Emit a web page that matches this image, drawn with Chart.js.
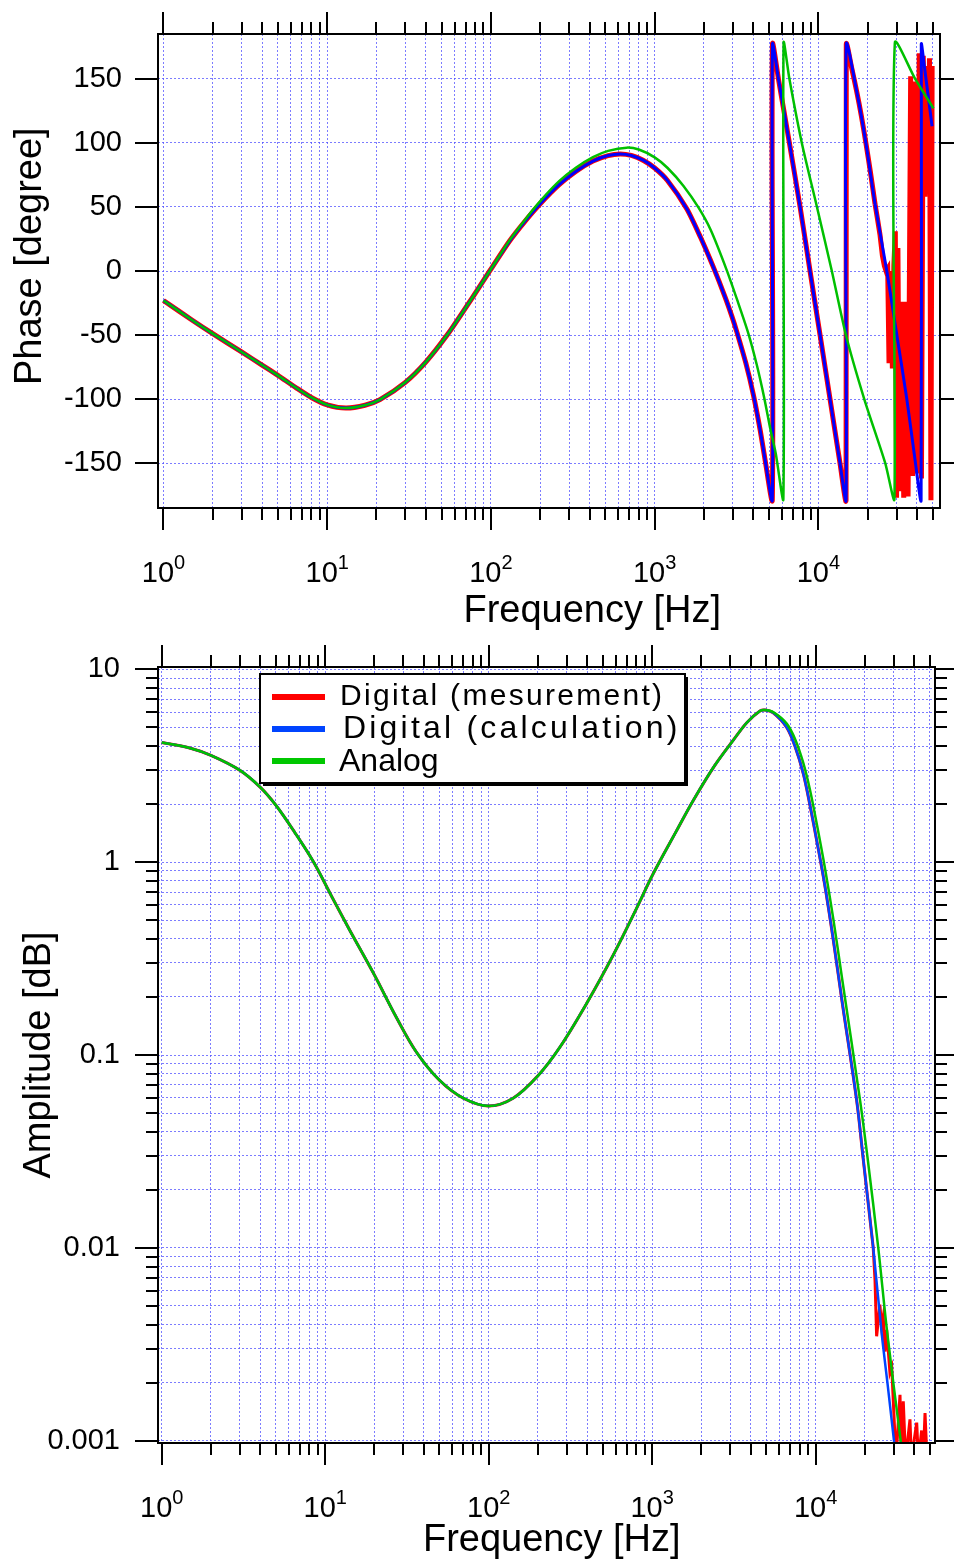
<!DOCTYPE html>
<html>
<head>
<meta charset="utf-8">
<title>Digital vs analog filter response</title>
<script src="https://cdn.jsdelivr.net/npm/chart.js@4.4.1/dist/chart.umd.min.js"></script>
<style>
  html, body { margin: 0; padding: 0; background: #fff; }
  #wrap { position: relative; width: 954px; height: 1560px; overflow: hidden; }
  #phase-chart { position: absolute; left: 0; top: 0; }
  #amp-chart { position: absolute; left: 0; top: 640px; }
</style>
</head>
<body>
<div id="wrap">
  <canvas id="phase-chart" width="954" height="640"></canvas>
  <canvas id="amp-chart" width="954" height="920"></canvas>
</div>
<script>
// Axis ticks
const freqDecades = [1, 10, 100, 1000, 10000];
const freqDecadeExps = ['0', '1', '2', '3', '4'];
const phaseTicks = [-150, -100, -50, 0, 50, 100, 150];
const ampDecades = [0.001, 0.01, 0.1, 1, 10];
const ampDecadeLabels = ['0.001', '0.01', '0.1', '1', '10'];

// Phase - digital (calculation)
const fPhaseCalc = [1, 1.5, 2, 3, 4, 5, 6.5, 8, 10, 13, 17, 21, 30, 40, 54, 70, 86, 99, 130, 160, 200, 260,
  330, 420, 520, 615, 720, 850, 1000, 1200, 1570, 1900, 2280, 2700, 2970, 3175, 3600, 4010, 4400, 4720, 5230, 5240,
  5700, 6650, 7730, 8890, 10240, 11780, 13550, 14760, 14800, 17150, 19500, 22200, 26170, 30130, 34680, 38990,
  42400, 42500, 44260, 49450];
const phaseCalc = [-23, -38.4, -48.9, -63.2, -73.4, -81.5, -91.4, -98.7, -104.5, -107, -104.8, -100.4,
  -86.9, -71.1, -50, -28.8, -11.4, 0.6, 23.4, 38.2, 52.5, 67.2,
  77.7, 85.8, 90.1, 91.4, 90.2, 86.5, 80.4, 70.5, 48.6, 26.7, 3.2, -20.7, -35.8, -47.5, -71.6, -96.8, -123.5, -147, -179, 177,
  150, 100, 50, 0, -50, -100, -150, -179, 177, 140, 100, 52, 0, -50, -100, -148,
  -179, 177, 161, 113];

// Phase - digital (measurement): clean part, then the noisy tail
const fPhaseMeas = [1, 1.5, 2, 3, 4, 5, 6.5, 8, 10, 13, 17, 21, 30, 40, 54, 70, 86, 99, 130, 160, 200, 260,
  330, 420, 520, 615, 720, 850, 1000, 1200, 1570, 1900, 2280, 2700, 2970, 3175, 3600, 4010, 4400, 4720, 5230, 5240,
  5700, 6650, 7730, 8890, 10240, 11780, 13550, 14760, 14800, 16000, 17150, 18300, 19500, 20800, 22200];
const phaseMeas = [-23, -38.4, -48.9, -63.2, -73.4, -81.5, -91.4, -98.7, -104.5, -107, -104.8, -100.4,
  -86.9, -71.1, -50, -28.8, -11.4, 0.6, 23.4, 38.2, 52.5, 67.2,
  77.7, 85.8, 90.1, 91.4, 90.2, 86.5, 80.4, 70.5, 48.6, 26.7, 3.2, -20.7, -35.8, -47.5, -71.6, -96.8, -123.5, -147, -179, 177,
  150, 100, 50, 0, -50, -100, -150, -179, 177, 158, 140, 121, 100, 77, 52];
const fPhaseMeasTail = [22200, 23000, 23800, 24600, 25300, 25900, 26500, 27000, 27600, 28300,
  28900, 29500, 30000, 30600, 31300, 32200, 33200, 34200, 35300, 36600,
  37600, 38700, 39800, 41300, 42600, 43700, 44700, 45700, 46700, 47700, 48700, 49500];
const phaseMeasTail = [52, 40, 28, 12, 4, 0, 2, -72, 0, -76,
  4, 31, -177, 18, -172, -24, -177, -24, -176, 152,
  -160, 148, -158, 170, -162, 168, 58, 160, 60, 166, -179, 160];

// Phase - analog
const fPhaseAnalog = [1, 1.5, 2, 3, 4, 5, 6.5, 8, 10, 13, 17, 21, 30, 40, 54, 70, 86, 99, 130, 160, 200, 260,
  330, 420, 520, 675, 800, 1000, 1200, 1500, 1850, 2200, 2740, 3200, 3740, 4200, 4660, 5100, 5500, 6110, 6130, 6650,
  7920, 9800, 12080, 14730, 19060, 25600, 29130, 29300, 38990, 50400];
const phaseAnalog = [-23, -38.4, -48.9, -63.2, -73.4, -81.5, -91.4, -98.7, -104.5, -107, -104.8, -100.4,
  -86.9, -71.1, -50, -28.8, -11.4, 0.6, 23.9, 39.3, 54.5, 69.9,
  80.6, 88.9, 93.8, 96.3, 94.8, 88.7, 80.4, 66.4, 49.6, 32, 1.5, -23, -49, -73, -98.5, -124, -143, -178, 178, 150,
  100, 50, 0, -50, -100, -150, -178, 178, 150, 127];

// Amplitude - digital (calculation)
const fAmpCalc = [1, 1.5, 2, 3, 4, 5, 6.5, 8.5, 11, 14, 20, 27, 36, 50, 70, 100, 141, 200, 273, 400,
  578, 800, 1016, 1400, 1784, 2400, 3133, 3800, 4560, 4900, 5500, 6650, 7500, 8400, 9200, 10140, 11400, 12820, 14500, 17820,
  19530, 22500, 25330, 27420, 30130, 31500];
const ampCalc = [4.17, 3.9, 3.58, 3.0, 2.45, 1.97, 1.43, 1.0, 0.66, 0.45, 0.26, 0.159, 0.104, 0.074, 0.0597, 0.0544, 0.0597, 0.078, 0.11, 0.187,
  0.33, 0.573, 0.873, 1.44, 2.09, 3.15, 4.29, 5.3, 6.08, 6.15, 5.95, 5.0, 3.95, 2.88, 2.0, 1.3, 0.75, 0.395, 0.19, 0.058,
  0.029, 0.01, 0.00361, 0.00203, 0.001, 0.0007];

// Amplitude - digital (measurement): clean part, then the noisy tail
const fAmpMeas = [1, 1.5, 2, 3, 4, 5, 6.5, 8.5, 11, 14, 20, 27, 36, 50, 70, 100, 141, 200, 273, 400,
  578, 800, 1016, 1400, 1784, 2400, 3133, 3800, 4560, 4900, 5500, 6650, 7500, 8400, 9200, 10140, 11400, 12820, 14500, 17820,
  19530, 22500];
const ampMeas = [4.17, 3.9, 3.58, 3.0, 2.45, 1.97, 1.43, 1.0, 0.66, 0.45, 0.26, 0.159, 0.104, 0.074, 0.0597, 0.0544, 0.0597, 0.078, 0.11, 0.187,
  0.33, 0.573, 0.873, 1.44, 2.09, 3.15, 4.29, 5.3, 6.08, 6.15, 5.95, 5.0, 3.95, 2.88, 2.0, 1.3, 0.75, 0.395, 0.19, 0.058,
  0.029, 0.01];
const fAmpMeasTail = [22500, 23070, 23600, 24700, 25350, 25900, 26550, 27200, 28470, 29200, 31000, 32800,
  33500, 34350, 35500, 37750, 38500, 41500, 42500, 44500, 45500, 46660, 48000];
const ampMeasTail = [0.01, 0.0068, 0.00348, 0.00507, 0.00391, 0.0044, 0.0029, 0.00376, 0.00225, 0.0024, 0.0008, 0.00173,
  0.0008, 0.0016, 0.0008, 0.00129, 0.0008, 0.00124, 0.0008, 0.00113, 0.0008, 0.00139, 0.0008];

// Amplitude - analog
const fAmpAnalog = [1, 1.5, 2, 3, 4, 5, 6.5, 8.5, 11, 14, 20, 27, 36, 50, 70, 100, 141, 200, 273, 400,
  578, 800, 1016, 1400, 1784, 2400, 3133, 3800, 4560, 4900, 5500, 6650, 7500, 8400, 9200, 10140, 11400, 12820, 14500, 18700,
  20800, 24150, 27420, 33110, 35000];
const ampAnalog = [4.17, 3.9, 3.58, 3.0, 2.45, 1.97, 1.43, 1.0, 0.66, 0.45, 0.26, 0.159, 0.104, 0.074, 0.0597, 0.0544, 0.0597, 0.078, 0.11, 0.187,
  0.33, 0.573, 0.873, 1.44, 2.09, 3.15, 4.29, 5.3, 6.08, 6.15, 6.0, 5.23, 4.33, 3.27, 2.4, 1.59, 0.93, 0.508, 0.25, 0.058,
  0.029, 0.01, 0.00361, 0.001, 0.0007];

const labels = ['Digital (mesurement)', 'Digital (calculation)', 'Analog'];

const FONT = "'Liberation Sans', Arial, Helvetica, sans-serif";
const tickFont = { family: FONT, size: 29 };
const titleFont = { family: FONT, size: 38 };
const gridColor = 'rgba(80, 80, 255, 0.75)';

function toPoints(xs, ys) {
  return xs.map((x, i) => ({ x: x, y: ys[i] }));
}

// decades plus 2..9 minor ticks
function logTicks(decades, max) {
  const out = [];
  decades.forEach(d => {
    out.push(d);
    for (let m = 2; m <= 9; m++) {
      if (d * m <= max) out.push(d * m);
    }
  });
  return out;
}

function labelFrom(list, names) {
  return v => {
    const i = list.indexOf(v);
    return i < 0 ? '' : names[i];
  };
}

// scales report no extra label overhang, so the plot box stays where the padding puts it
function fixSize(prop, size) {
  return s => {
    s[prop] = size;
    s.paddingLeft = 0;
    s.paddingRight = 0;
    s.paddingTop = 0;
    s.paddingBottom = 0;
  };
}

// Igor-style frame: box round the plot, ticks outside on all four sides, 10^n labels
const frameTicks = {
  id: 'frameTicks',
  afterDraw(chart, args, opts) {
    const { ctx, chartArea: a } = chart;
    const xs = chart.scales.x;
    const ys = chart.scales.y;
    ctx.save();
    ctx.strokeStyle = '#000';
    ctx.lineWidth = 2;
    ctx.beginPath();
    xs.ticks.forEach(t => {
      const p = Math.round(xs.getPixelForValue(t.value));
      const len = opts.xMajor.includes(t.value) ? 22 : 12;
      ctx.moveTo(p, a.bottom); ctx.lineTo(p, a.bottom + len);
      ctx.moveTo(p, a.top); ctx.lineTo(p, a.top - len);
    });
    ys.ticks.forEach(t => {
      const p = Math.round(ys.getPixelForValue(t.value));
      const len = opts.yMajor.includes(t.value) ? 23 : 12;
      ctx.moveTo(a.left, p); ctx.lineTo(a.left - len, p);
      ctx.moveTo(a.right, p); ctx.lineTo(a.right + len, p);
    });
    ctx.stroke();
    ctx.strokeRect(a.left, a.top, a.right - a.left, a.bottom - a.top);

    ctx.fillStyle = '#000';
    ctx.textBaseline = 'alphabetic';
    ctx.textAlign = 'left';
    opts.xMajor.forEach((v, i) => {
      const p = xs.getPixelForValue(v);
      ctx.font = opts.baseFont;
      const wb = ctx.measureText('10').width;
      ctx.font = opts.expFont;
      const we = ctx.measureText(opts.exps[i]).width;
      const x0 = p - (wb + we) / 2;
      ctx.font = opts.baseFont;
      ctx.fillText('10', x0, a.bottom + 74);
      ctx.font = opts.expFont;
      ctx.fillText(opts.exps[i], x0 + wb, a.bottom + 61);
    });
    ctx.restore();
  }
};

// boxed legend with a drop shadow, placed inside the amplitude plot
const boxLegend = {
  id: 'boxLegend',
  afterDraw(chart, args, o) {
    if (!o.rows) return;
    const ctx = chart.ctx;
    const w = o.right - o.left;
    const h = o.bottom - o.top;
    ctx.save();
    ctx.fillStyle = '#000';
    ctx.fillRect(o.left + 3, o.top + 3, w, h);
    ctx.fillStyle = '#fff';
    ctx.fillRect(o.left, o.top, w, h);
    ctx.lineWidth = 2;
    ctx.strokeStyle = '#000';
    ctx.strokeRect(o.left, o.top, w, h);
    o.rows.forEach((row, i) => {
      const ds = chart.data.datasets[i];
      ctx.strokeStyle = o.colors[i];
      ctx.lineWidth = 6;
      ctx.beginPath();
      ctx.moveTo(o.lineX0, row.lineY);
      ctx.lineTo(o.lineX1, row.lineY);
      ctx.stroke();
      ctx.font = row.font;
      ctx.letterSpacing = row.spacing;
      ctx.fillStyle = '#000';
      ctx.textBaseline = 'alphabetic';
      ctx.textAlign = 'left';
      ctx.fillText(ds.label, row.textX, row.textY);
    });
    ctx.restore();
  }
};

function lineSet(label, pts, color, width, order, tension) {
  return {
    label: label,
    data: pts,
    borderColor: color,
    borderWidth: width,
    pointRadius: 0,
    fill: false,
    tension: tension,
    order: order
  };
}

function freqAxis(max, ticks, height, titleText, titleBottom) {
  return {
    type: 'logarithmic',
    min: max > 54000 ? 0.926 : 0.949,
    max: max,
    afterBuildTicks: s => { s.ticks = ticks.map(v => ({ value: v })); },
    afterFit: fixSize('height', height),
    ticks: { autoSkip: false, maxRotation: 0, padding: 0, font: tickFont, callback: () => '' },
    grid: { color: gridColor, lineWidth: 1, drawTicks: false },
    border: { display: false, dash: [2, 2] },
    title: { display: true, text: titleText, color: '#000', font: titleFont,
      padding: { top: 0, bottom: titleBottom } }
  };
}

const freqTicksTop = logTicks(freqDecades, 55300);
const freqTicksBottom = logTicks(freqDecades, 53700);
const ampTicks = logTicks(ampDecades, 10.3);

const xLabelOpts = {
  xMajor: freqDecades,
  exps: freqDecadeExps,
  baseFont: '29px ' + FONT,
  expFont: '20px ' + FONT
};

const phaseChart = new Chart(document.getElementById('phase-chart'), {
  type: 'line',
  data: {
    datasets: [
      lineSet(labels[0], toPoints(fPhaseMeas, phaseMeas), '#ff0000', 5, 3, 0.25),
      lineSet(labels[1], toPoints(fPhaseCalc, phaseCalc), '#0000ff', 3, 2, 0.25),
      lineSet(labels[2], toPoints(fPhaseAnalog, phaseAnalog), '#00c000', 2.5, 1, 0.25),
      lineSet(labels[0], toPoints(fPhaseMeasTail, phaseMeasTail), '#ff0000', 5, 3, 0)
    ]
  },
  options: {
    responsive: false,
    animation: false,
    devicePixelRatio: 1,
    layout: { padding: { top: 34, right: 14, left: 0, bottom: 0 } },
    plugins: {
      legend: { display: false },
      tooltip: { enabled: false },
      frameTicks: Object.assign({ yMajor: phaseTicks }, xLabelOpts)
    },
    scales: {
      x: freqAxis(55300, freqTicksTop, 132, '\u2002\u2002\u2002\u2002 Frequency [Hz]', 6),
      y: {
        type: 'linear',
        min: -185,
        max: 185,
        afterBuildTicks: s => { s.ticks = phaseTicks.map(v => ({ value: v })); },
        afterFit: fixSize('width', 158),
        ticks: { padding: 36, color: '#000', font: tickFont, callback: v => String(v) },
        grid: { color: gridColor, lineWidth: 1, drawTicks: false },
        border: { display: false, dash: [2, 2] },
        title: { display: true, text: '\u2002 Phase [degree]', color: '#000', font: titleFont,
          padding: { top: 8, bottom: 0 } }
      }
    }
  },
  plugins: [frameTicks]
});

const ampChart = new Chart(document.getElementById('amp-chart'), {
  type: 'line',
  data: {
    datasets: [
      lineSet(labels[0], toPoints(fAmpMeas, ampMeas), '#ff0000', 3, 3, 0.35),
      lineSet(labels[1], toPoints(fAmpCalc, ampCalc), '#0044ff', 2.5, 2, 0.35),
      lineSet(labels[2], toPoints(fAmpAnalog, ampAnalog), '#00c000', 2.5, 1, 0.35),
      lineSet(labels[0], toPoints(fAmpMeasTail, ampMeasTail), '#ff0000', 3, 3, 0)
    ]
  },
  options: {
    responsive: false,
    animation: false,
    devicePixelRatio: 1,
    layout: { padding: { top: 27, right: 19, left: 0, bottom: 0 } },
    plugins: {
      legend: { display: false },
      tooltip: { enabled: false },
      frameTicks: Object.assign({ yMajor: ampDecades }, xLabelOpts),
      boxLegend: {
        left: 260, top: 34, right: 685, bottom: 143,
        lineX0: 272, lineX1: 325,
        colors: ['#ff0000', '#0044ff', '#00c800'],
        rows: [
          { lineY: 57, textX: 340, textY: 65, font: '30px ' + FONT, spacing: '2.3px' },
          { lineY: 89, textX: 343, textY: 98, font: '32px ' + FONT, spacing: '3.2px' },
          { lineY: 121, textX: 339, textY: 131, font: '32px ' + FONT, spacing: '0px' }
        ]
      }
    },
    scales: {
      x: freqAxis(53700, freqTicksBottom, 117, ' Frequency [Hz]', -3),
      y: {
        type: 'logarithmic',
        min: 0.000973,
        max: 10.28,
        afterBuildTicks: s => { s.ticks = ampTicks.map(v => ({ value: v })); },
        afterFit: fixSize('width', 158),
        ticks: { autoSkip: false, padding: 38, color: '#000', font: tickFont,
          callback: labelFrom(ampDecades, ampDecadeLabels) },
        grid: { color: gridColor, lineWidth: 1, drawTicks: false },
        border: { display: false, dash: [2, 2] },
        title: { display: true, text: 'Amplitude [dB]', color: '#000', font: titleFont,
          padding: { top: 17, bottom: 0 } }
      }
    }
  },
  plugins: [frameTicks, boxLegend]
});
</script>
</body>
</html>
